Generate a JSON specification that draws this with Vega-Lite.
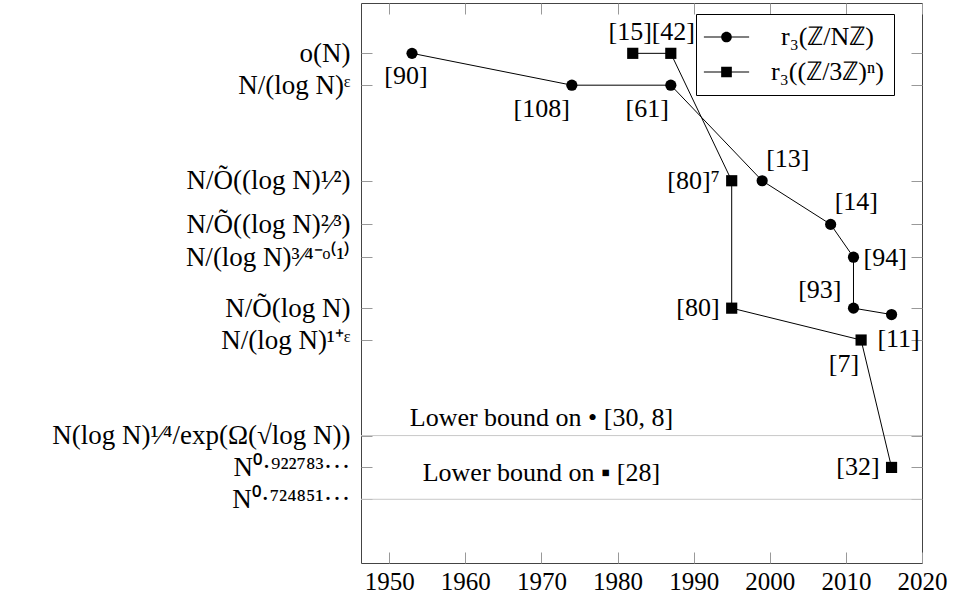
{
  "$schema": "https://vega.github.io/schema/vega-lite/v6.json",
  "width": 561,
  "height": 560,
  "autosize": {"type": "none"},
  "padding": {"left": 361, "top": 3, "right": 32, "bottom": 31},
  "background": "white",
  "config": {
    "view": {"stroke": "#444", "strokeWidth": 1},
    "font": "Liberation Serif",
    "text": {"font": "Liberation Serif", "fontSize": 26, "color": "black"}
  },
  "datasets": {
    "pts": [
      {"series": "r₃(ℤ/Nℤ)", "year": 1953, "level": 0, "ref": "[90]", "step": 1},
      {"series": "r₃(ℤ/Nℤ)", "year": 1974, "level": 1, "ref": "[108]", "step": 2},
      {"series": "r₃(ℤ/Nℤ)", "year": 1987, "level": 1, "ref": "[61]", "step": 3},
      {"series": "r₃(ℤ/Nℤ)", "year": 1999, "level": 4, "ref": "[13]", "step": 4},
      {"series": "r₃(ℤ/Nℤ)", "year": 2008, "level": 5.37, "ref": "[14]", "step": 5},
      {"series": "r₃(ℤ/Nℤ)", "year": 2011, "level": 6.4, "ref": "[94]", "step": 6},
      {"series": "r₃(ℤ/Nℤ)", "year": 2011, "level": 8, "ref": "[93]", "step": 7},
      {"series": "r₃(ℤ/Nℤ)", "year": 2016, "level": 8.2, "ref": "[11]", "step": 8},
      {"series": "r₃((ℤ/3ℤ)ⁿ)", "year": 1982, "level": 0, "ref": "[15]", "step": 1},
      {"series": "r₃((ℤ/3ℤ)ⁿ)", "year": 1987, "level": 0, "ref": "[42]", "step": 2},
      {"series": "r₃((ℤ/3ℤ)ⁿ)", "year": 1995, "level": 4, "ref": "[80]⁷", "step": 3},
      {"series": "r₃((ℤ/3ℤ)ⁿ)", "year": 1995, "level": 8, "ref": "[80]", "step": 4},
      {"series": "r₃((ℤ/3ℤ)ⁿ)", "year": 2012, "level": 9, "ref": "[7]", "step": 5},
      {"series": "r₃((ℤ/3ℤ)ⁿ)", "year": 2016, "level": 13, "ref": "[32]", "step": 6}
    ],
    "bounds": [
      {"level": 12, "year": 1970, "textLevel": 11.45, "note": "Lower bound on • [30, 8]"},
      {"level": 14, "year": 1970, "textLevel": 13.18, "note": "Lower bound on ▪ [28]"}
    ]
  },
  "resolve": {"axis": {"x": "independent", "y": "independent"}, "scale": {"shape": "independent"}},
  "layer": [
    {
      "data": {"name": "bounds"},
      "mark": {"type": "rule", "color": "#c8c8c8", "strokeWidth": 1},
      "encoding": {
        "y": {"field": "level", "type": "quantitative", "axis": null}
      }
    },
    {
      "data": {"name": "bounds"},
      "mark": {"type": "text", "align": "center", "baseline": "middle"},
      "encoding": {
        "x": {"field": "year", "type": "quantitative", "axis": null},
        "y": {"field": "textLevel", "type": "quantitative", "axis": null},
        "text": {"field": "note"}
      }
    },
    {
      "data": {"name": "pts"},
      "mark": {"type": "line", "color": "black", "strokeWidth": 1},
      "encoding": {
        "x": {
          "field": "year", "type": "quantitative",
          "scale": {"domain": [1946.3, 2020], "nice": false, "zero": false},
          "axis": {
            "orient": "bottom", "title": null, "values": [1950, 1960, 1970, 1980, 1990, 2000, 2010, 2020],
            "format": "d", "labelFont": "Liberation Serif", "labelFontSize": 25, "labelColor": "black",
            "labelPadding": 17, "tickSize": -11, "tickColor": "#999", "domain": false, "grid": false,
            "labelFlush": false, "labelOverlap": false
          }
        },
        "y": {
          "field": "level", "type": "quantitative",
          "scale": {"domain": [-1.58, 16], "reverse": true, "nice": false, "zero": false},
          "axis": {
            "orient": "left", "title": null, "values": [0, 1, 4, 5.37, 6.4, 8, 9, 12, 13, 14],
            "labelExpr": "datum.value == 0 ? 'o(N)' : datum.value == 1 ? 'N/(log N)ᵋ' : datum.value == 4 ? 'N/Õ((log N)¹⁄²)' : datum.value == 5.37 ? 'N/Õ((log N)²⁄³)' : datum.value == 6.4 ? 'N/(log N)³⁄⁴⁻ᵒ⁽¹⁾' : datum.value == 8 ? 'N/Õ(log N)' : datum.value == 9 ? 'N/(log N)¹⁺ᵋ' : datum.value == 12 ? 'N(log N)¹⁄⁴/exp(Ω(√log N))' : datum.value == 13 ? 'N⁰·⁹²²⁷⁸³···' : 'N⁰·⁷²⁴⁸⁵¹···'",
            "labelFont": "Liberation Serif", "labelFontSize": 27, "labelColor": "black", "labelLimit": 400,
            "labelPadding": 22, "tickSize": -11, "tickColor": "#999", "domain": false, "grid": false,
            "labelFlush": false, "labelOverlap": false
          }
        },
        "detail": {"field": "series"},
        "order": {"field": "step"}
      }
    },
    {
      "data": {"name": "pts"},
      "mark": {"type": "point", "filled": true, "opacity": 1, "color": "black", "size": 125},
      "encoding": {
        "x": {"field": "year", "type": "quantitative", "axis": null},
        "y": {"field": "level", "type": "quantitative", "axis": null},
        "shape": {
          "field": "series", "type": "nominal",
          "scale": {"domain": ["r₃(ℤ/Nℤ)", "r₃((ℤ/3ℤ)ⁿ)"], "range": ["circle", "square"]},
          "legend": null
        }
      }
    },
    {
      "data": {"name": "pts"},
      "transform": [{"filter": "false"}],
      "mark": {"type": "point", "filled": true, "opacity": 1, "color": "black"},
      "encoding": {
        "x": {"field": "year", "type": "quantitative", "axis": null},
        "y": {"field": "level", "type": "quantitative", "axis": null},
        "shape": {
          "field": "series", "type": "nominal",
          "scale": {
            "domain": ["r₃(ℤ/Nℤ)", "r₃((ℤ/3ℤ)ⁿ)"],
            "range": [
              "M-3.77,-0.09H-0.89V0.09H-3.77ZM0.89,-0.09H3.77V0.09H0.89ZM-0.89,0A0.89,0.89,0,1,1,0.89,0A0.89,0.89,0,1,1,-0.89,0Z",
              "M-3.77,-0.09H-0.89V0.09H-3.77ZM0.89,-0.09H3.77V0.09H0.89ZM-0.89,-0.89H0.89V0.89H-0.89Z"
            ]
          },
          "legend": {
            "title": null, "orient": "none", "legendX": 335, "legendY": 11,
            "padding": 10, "strokeColor": "black", "fillColor": "white",
            "labelFont": "Liberation Serif", "labelFontSize": 26, "labelColor": "black", "labelLimit": 300,
            "labelAlign": "center", "labelOffset": 88, "symbolOffset": 7.5,
            "symbolSize": 144, "rowPadding": 9, "symbolOpacity": 1,
            "symbolFillColor": "black", "symbolStrokeColor": "black", "symbolStrokeWidth": 0
          }
        }
      }
    },
    {
      "data": {"name": "pts"},
      "transform": [{"filter": {"field": "ref", "oneOf": ["[80]⁷", "[80]", "[32]"]}}],
      "mark": {"type": "text", "align": "right", "baseline": "middle", "dx": -12, "dy": 0},
      "encoding": {
        "x": {"field": "year", "type": "quantitative", "axis": null},
        "y": {"field": "level", "type": "quantitative", "axis": null},
        "text": {"field": "ref"}
      }
    },
    {
      "data": {"name": "pts"},
      "transform": [{"filter": {"field": "ref", "oneOf": ["[15]"]}}],
      "mark": {"type": "text", "align": "center", "baseline": "middle", "dx": -2.5, "dy": -21},
      "encoding": {
        "x": {"field": "year", "type": "quantitative", "axis": null},
        "y": {"field": "level", "type": "quantitative", "axis": null},
        "text": {"field": "ref"}
      }
    },
    {
      "data": {"name": "pts"},
      "transform": [{"filter": {"field": "ref", "oneOf": ["[42]"]}}],
      "mark": {"type": "text", "align": "center", "baseline": "middle", "dx": 2.5, "dy": -21},
      "encoding": {
        "x": {"field": "year", "type": "quantitative", "axis": null},
        "y": {"field": "level", "type": "quantitative", "axis": null},
        "text": {"field": "ref"}
      }
    },
    {
      "data": {"name": "pts"},
      "transform": [{"filter": {"field": "ref", "oneOf": ["[13]", "[14]"]}}],
      "mark": {"type": "text", "align": "left", "baseline": "middle", "dx": 4, "dy": -22},
      "encoding": {
        "x": {"field": "year", "type": "quantitative", "axis": null},
        "y": {"field": "level", "type": "quantitative", "axis": null},
        "text": {"field": "ref"}
      }
    },
    {
      "data": {"name": "pts"},
      "transform": [{"filter": {"field": "ref", "oneOf": ["[94]"]}}],
      "mark": {"type": "text", "align": "left", "baseline": "middle", "dx": 10, "dy": 1},
      "encoding": {
        "x": {"field": "year", "type": "quantitative", "axis": null},
        "y": {"field": "level", "type": "quantitative", "axis": null},
        "text": {"field": "ref"}
      }
    },
    {
      "data": {"name": "pts"},
      "transform": [{"filter": {"field": "ref", "oneOf": ["[93]"]}}],
      "mark": {"type": "text", "align": "right", "baseline": "middle", "dx": -12, "dy": -18},
      "encoding": {
        "x": {"field": "year", "type": "quantitative", "axis": null},
        "y": {"field": "level", "type": "quantitative", "axis": null},
        "text": {"field": "ref"}
      }
    },
    {
      "data": {"name": "pts"},
      "transform": [{"filter": {"field": "ref", "oneOf": ["[108]", "[61]", "[7]"]}}],
      "mark": {"type": "text", "align": "right", "baseline": "middle", "dx": -2, "dy": 23.5},
      "encoding": {
        "x": {"field": "year", "type": "quantitative", "axis": null},
        "y": {"field": "level", "type": "quantitative", "axis": null},
        "text": {"field": "ref"}
      }
    },
    {
      "data": {"name": "pts"},
      "transform": [{"filter": {"field": "ref", "oneOf": ["[90]"]}}],
      "mark": {"type": "text", "align": "center", "baseline": "middle", "dx": -6, "dy": 23},
      "encoding": {
        "x": {"field": "year", "type": "quantitative", "axis": null},
        "y": {"field": "level", "type": "quantitative", "axis": null},
        "text": {"field": "ref"}
      }
    },
    {
      "data": {"name": "pts"},
      "transform": [{"filter": {"field": "ref", "oneOf": ["[11]"]}}],
      "mark": {"type": "text", "align": "center", "baseline": "middle", "dx": 7, "dy": 24},
      "encoding": {
        "x": {"field": "year", "type": "quantitative", "axis": null},
        "y": {"field": "level", "type": "quantitative", "axis": null},
        "text": {"field": "ref"}
      }
    },
    {
      "data": {"name": "pts"},
      "mark": {"type": "point", "opacity": 0},
      "encoding": {
        "x": {
          "field": "year", "type": "quantitative",
          "axis": {
            "orient": "top", "title": null, "values": [1950, 1960, 1970, 1980, 1990, 2000, 2010, 2020],
            "labels": false, "tickSize": -11, "tickColor": "#999", "domain": false, "grid": false
          }
        },
        "y": {
          "field": "level", "type": "quantitative",
          "axis": {
            "orient": "right", "title": null, "values": [0, 1, 4, 5.37, 6.4, 8, 9, 12, 13, 14],
            "labels": false, "tickSize": -11, "tickColor": "#999", "domain": false, "grid": false
          }
        }
      }
    }
  ]
}
